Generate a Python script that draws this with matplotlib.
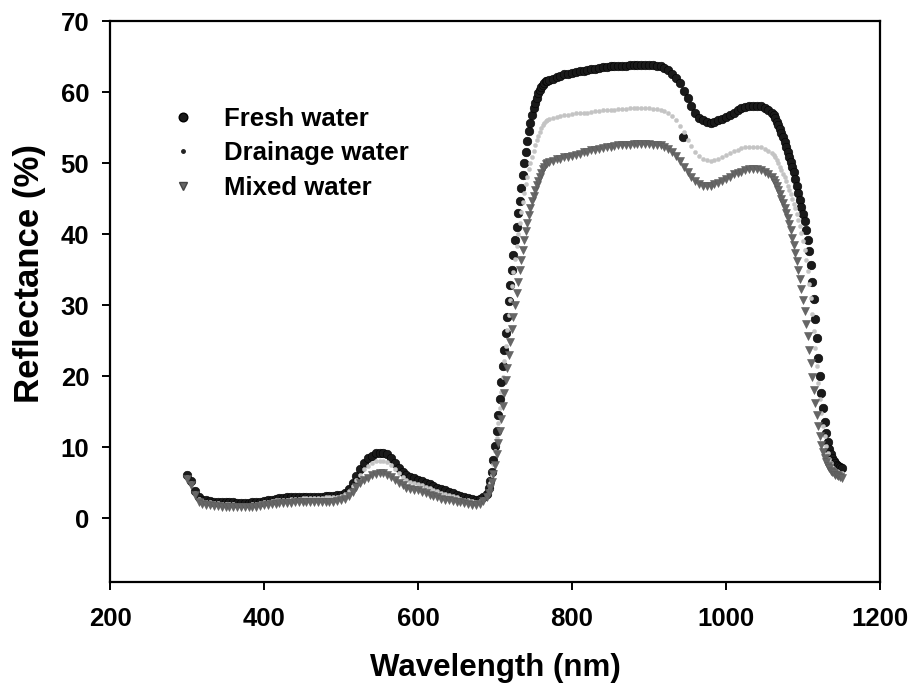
import numpy as np
import matplotlib
matplotlib.use("Agg")
import matplotlib.pyplot as plt
from matplotlib.lines import Line2D

plt.rcParams['font.family'] = ['Liberation Sans', 'DejaVu Sans']
plt.rcParams['font.weight'] = 'bold'

# wavelength grid (nm): 5 nm in the flat parts, 2 nm on the steep edges
wl_vis = np.arange(300, 690, 5)        # 300..685
wl_edge = np.arange(690, 770, 2)       # 690..768
wl_nir = np.arange(770, 1060, 5)       # 770..1055
wl_fall = np.arange(1060, 1152, 2)     # 1060..1150

# Fresh water reflectance (%)
fresh_vis = [6.0, 5.2, 3.8, 2.9, 2.6, 2.5, 2.4, 2.3, 2.3, 2.2,
             2.2, 2.2, 2.2, 2.1, 2.1, 2.1, 2.1, 2.2, 2.2, 2.3,
             2.4, 2.5, 2.6, 2.7, 2.8, 2.8, 2.9, 2.9, 2.9, 3.0,
             3.0, 3.0, 3.0, 3.0, 3.0, 3.0, 3.1, 3.1, 3.1, 3.2,
             3.3, 3.6, 4.1, 4.9, 5.9, 6.9, 7.8, 8.4, 8.8, 9.1,
             9.2, 9.2, 9.0, 8.5, 7.8, 7.1, 6.5, 6.1, 5.8, 5.6,
             5.4, 5.2, 5.0, 4.8, 4.5, 4.3, 4.1, 3.9, 3.7, 3.5,
             3.3, 3.1, 2.9, 2.8, 2.7, 2.6, 2.7, 2.9]
fresh_edge = [3.4, 4.2, 5.2, 6.5, 8.2, 10.2, 12.3, 14.5, 16.8, 19.1,
              21.4, 23.7, 26.0, 28.3, 30.6, 32.8, 35.0, 37.1, 39.1, 41.0,
              42.9, 44.7, 46.5, 48.3, 50.0, 51.6, 53.1, 54.5, 55.7, 56.8,
              57.7, 58.5, 59.2, 59.8, 60.3, 60.7, 61.0, 61.3, 61.5, 61.6]
fresh_nir = [61.7, 61.9, 62.1, 62.3, 62.5, 62.6, 62.7, 62.8, 62.9, 63.0,
             63.1, 63.2, 63.3, 63.4, 63.5, 63.5, 63.6, 63.6, 63.6, 63.7,
             63.7, 63.8, 63.8, 63.8, 63.8, 63.8, 63.8, 63.8, 63.7, 63.6,
             63.4, 63.1, 62.6, 62.0, 61.2, 60.2, 59.1, 58.0, 57.1, 56.4,
             56.0, 55.8, 55.7, 55.8, 56.0, 56.2, 56.5, 56.8, 57.1, 57.4,
             57.7, 57.9, 58.0, 58.1, 58.1, 58.0, 57.8, 57.4]
fresh_fall = [57.0, 56.7, 56.3, 55.8, 55.3, 54.8, 54.2, 53.6, 53.0, 52.3,
              51.6, 50.9, 50.2, 49.5, 48.7, 47.8, 46.8, 45.8, 44.8, 43.8,
              42.8, 41.8, 40.6, 39.2, 37.6, 35.6, 33.3, 30.8, 28.1, 25.3,
              22.6, 20.0, 17.6, 15.5, 13.6, 12.0, 10.7, 9.7, 9.0, 8.4,
              8.0, 7.7, 7.5, 7.3, 7.2, 7.1]
# single stray reading in the fresh water series
fresh_stray_wl = [944]
fresh_stray = [53.7]

# Drainage water reflectance (%)
drain_vis = [5.8, 5.0, 3.6, 2.7, 2.4, 2.3, 2.2, 2.1, 2.1, 2.0,
             2.0, 2.0, 2.0, 1.9, 1.9, 1.9, 1.9, 2.0, 2.0, 2.1,
             2.2, 2.3, 2.4, 2.5, 2.5, 2.6, 2.6, 2.7, 2.7, 2.7,
             2.8, 2.8, 2.8, 2.8, 2.8, 2.8, 2.9, 2.9, 2.9, 3.0,
             3.1, 3.4, 3.8, 4.5, 5.3, 6.1, 6.9, 7.4, 7.8, 8.0,
             8.1, 8.1, 7.9, 7.5, 6.9, 6.3, 5.8, 5.4, 5.1, 4.9,
             4.8, 4.6, 4.4, 4.2, 4.0, 3.8, 3.6, 3.4, 3.2, 3.1,
             2.9, 2.7, 2.6, 2.5, 2.4, 2.3, 2.4, 2.7]
drain_edge = [3.3, 4.0, 4.9, 6.1, 7.6, 9.4, 11.3, 13.4, 15.5, 17.7,
              19.9, 22.1, 24.3, 26.5, 28.6, 30.7, 32.7, 34.6, 36.5, 38.3,
              40.0, 41.6, 43.1, 44.5, 45.8, 47.0, 48.1, 49.1, 50.0, 50.9,
              51.7, 52.5, 53.2, 53.8, 54.4, 54.9, 55.3, 55.7, 55.9, 56.1]
drain_nir = [56.2, 56.4, 56.5, 56.6, 56.7, 56.8, 56.9, 57.0, 57.0, 57.1,
             57.1, 57.2, 57.3, 57.3, 57.4, 57.4, 57.5, 57.5, 57.6, 57.6,
             57.6, 57.7, 57.7, 57.7, 57.7, 57.7, 57.7, 57.6, 57.6, 57.5,
             57.3, 57.0, 56.6, 56.0, 55.2, 54.3, 53.3, 52.4, 51.6, 51.0,
             50.6, 50.4, 50.3, 50.4, 50.6, 50.8, 51.1, 51.4, 51.7, 51.9,
             52.1, 52.2, 52.3, 52.3, 52.3, 52.2, 52.0, 51.7]
drain_fall = [51.4, 51.1, 50.8, 50.4, 50.0, 49.5, 49.0, 48.5, 48.0, 47.4,
              46.8, 46.2, 45.6, 45.0, 44.3, 43.6, 42.8, 42.0, 41.1, 40.1,
              39.0, 37.8, 36.4, 34.8, 33.0, 31.0, 28.8, 26.4, 23.9, 21.4,
              19.0, 16.8, 14.8, 13.0, 11.5, 10.2, 9.1, 8.3, 7.7, 7.2,
              6.9, 6.7, 6.6, 6.5, 6.4, 6.4]

# Mixed water reflectance (%)
mixed_vis = [5.5, 4.6, 3.2, 2.3, 2.0, 1.9, 1.8, 1.7, 1.7, 1.6,
             1.6, 1.6, 1.6, 1.5, 1.5, 1.5, 1.5, 1.6, 1.6, 1.7,
             1.8, 1.9, 2.0, 2.0, 2.1, 2.1, 2.1, 2.1, 2.2, 2.2,
             2.2, 2.2, 2.2, 2.2, 2.2, 2.2, 2.3, 2.3, 2.3, 2.4,
             2.5, 2.7, 3.1, 3.7, 4.4, 5.0, 5.3, 5.7, 6.0, 6.2,
             6.3, 6.3, 6.1, 5.8, 5.4, 5.0, 4.6, 4.3, 4.1, 4.0,
             3.9, 3.7, 3.5, 3.3, 3.1, 2.9, 2.7, 2.6, 2.5, 2.4,
             2.3, 2.2, 2.1, 2.0, 1.9, 1.9, 2.0, 2.4]
mixed_edge = [3.0, 3.5, 4.2, 5.1, 6.2, 7.5, 9.0, 10.6, 12.3, 14.0,
              15.8, 17.6, 19.4, 21.2, 23.0, 24.8, 26.6, 28.3, 30.0, 31.7,
              33.3, 34.9, 36.4, 37.8, 39.1, 40.4, 41.6, 42.7, 43.7, 44.6,
              45.4, 46.2, 46.9, 47.5, 48.1, 48.6, 49.1, 49.5, 49.8, 50.0]
mixed_nir = [50.1, 50.3, 50.5, 50.6, 50.8, 50.9, 51.0, 51.2, 51.3, 51.5,
             51.6, 51.8, 51.9, 52.0, 52.1, 52.2, 52.3, 52.4, 52.5, 52.5,
             52.6, 52.6, 52.7, 52.7, 52.7, 52.7, 52.7, 52.6, 52.6, 52.5,
             52.3, 52.0, 51.6, 51.0, 50.3, 49.5, 48.7, 48.0, 47.4, 47.0,
             46.8, 46.7, 46.8, 47.0, 47.2, 47.5, 47.8, 48.1, 48.4, 48.6,
             48.8, 49.0, 49.1, 49.1, 49.1, 49.0, 48.8, 48.4]
mixed_fall = [48.0, 47.6, 47.2, 46.7, 46.2, 45.6, 45.0, 44.4, 43.7, 43.0,
              42.2, 41.4, 40.5, 39.5, 38.5, 37.4, 36.2, 35.0, 33.6, 32.2,
              30.7, 29.1, 27.4, 25.6, 23.7, 21.8, 19.9, 18.0, 16.2, 14.5,
              12.9, 11.5, 10.3, 9.3, 8.5, 7.9, 7.4, 7.0, 6.7, 6.5,
              6.3, 6.1, 6.0, 5.9, 5.8, 5.7]

wl = np.concatenate([wl_vis, wl_edge, wl_nir, wl_fall])
fresh = np.concatenate([fresh_vis, fresh_edge, fresh_nir, fresh_fall])
drain = np.concatenate([drain_vis, drain_edge, drain_nir, drain_fall])
mixed = np.concatenate([mixed_vis, mixed_edge, mixed_nir, mixed_fall])

fig = plt.figure(figsize=(9.14, 6.91), dpi=100)
ax = fig.add_axes([110 / 914, 1 - 582 / 691, 770 / 914, 561 / 691])

ax.plot(np.r_[wl, fresh_stray_wl], np.r_[fresh, fresh_stray], 'o', ls='none',
        ms=6.2, mfc='#1a1a1a', mec='#000000', mew=0.4)
ax.plot(wl, drain, 'o', ls='none', ms=3.0, mfc='#c4c4c4', mec='#c4c4c4', mew=0.3)
ax.plot(wl, mixed, 'v', ls='none', ms=6.2, mfc='#666666', mec='#5a5a5a', mew=0.4)

ax.set_xlim(200, 1200)
ax.set_ylim(-9, 70)
ax.set_xticks([200, 400, 600, 800, 1000, 1200])
ax.set_yticks([0, 10, 20, 30, 40, 50, 60, 70])

for s in ax.spines.values():
    s.set_linewidth(1.6)
ax.tick_params(direction='out', length=6, width=1.4, labelsize=18.5)
ax.tick_params(axis='x', pad=12)
ax.tick_params(axis='y', pad=9)
for lab in ax.get_xticklabels() + ax.get_yticklabels():
    lab.set_fontweight('bold')

ax.set_xlabel('Wavelength (nm)', fontsize=22.5, fontweight='bold', labelpad=16)
ax.set_ylabel('Reflectance (%)', fontsize=25, fontweight='bold')
ax.yaxis.set_label_coords(-0.083, 0.55)

handles = [
    Line2D([], [], marker='o', ls='none', ms=6.2, mfc='#1a1a1a', mec='#000000'),
    Line2D([], [], marker='o', ls='none', ms=2.5, mfc='#222222', mec='#222222'),
    Line2D([], [], marker='v', ls='none', ms=6.2, mfc='#666666', mec='#444444'),
]
ax.legend(handles, ['Fresh water', 'Drainage water', 'Mixed water'],
          loc='upper left', bbox_to_anchor=(170 / 914, 1 - 107 / 691),
          bbox_transform=fig.transFigure, frameon=False,
          prop={'size': 18.5, 'weight': 'bold'},
          handlelength=1.0, handletextpad=1.1, labelspacing=0.4,
          borderpad=0.0, borderaxespad=0.0)

fig.savefig('out.png', dpi=100)
